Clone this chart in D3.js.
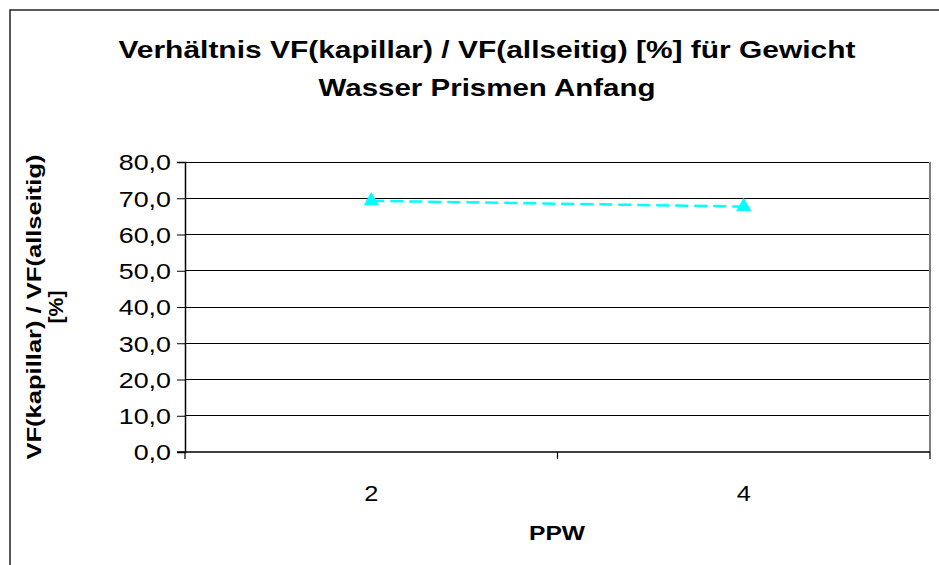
<!DOCTYPE html>
<html><head><meta charset="utf-8">
<script src="https://cdn.jsdelivr.net/npm/d3@7"></script>
<style>body{margin:0;background:#fff}svg{display:block;font-family:"Liberation Sans",Arial,sans-serif}</style>
</head><body>
<svg id="c" width="939" height="565"></svg>
<script>
const categories = ["2", "4"];
const values = [69.3, 67.7];
const yTicks = [0, 10, 20, 30, 40, 50, 60, 70, 80];
const titleLines = ["Verhältnis VF(kapillar) / VF(allseitig) [%] für Gewicht", "Wasser Prismen Anfang"];
const yTitleLines = ["VF(kapillar) / VF(allseitig)", "[%]"];
const xTitle = "PPW";

const svg = d3.select("#c");
const L = 185, R = 930, T = 162, B = 452;
const FF = "'Liberation Sans', Arial, sans-serif";

function stretch(sel, factor) {
  sel.each(function () {
    const w = this.getComputedTextLength();
    d3.select(this).attr("textLength", w * factor).attr("lengthAdjust", "spacingAndGlyphs");
  });
}
function fitTo(sel, widths) {
  sel.each(function (d, i) {
    d3.select(this).attr("textLength", widths[i]).attr("lengthAdjust", "spacingAndGlyphs");
  });
}

svg.append("rect").attr("x", 10).attr("y", 10).attr("width", 940).attr("height", 570)
  .attr("fill", "#fff").attr("stroke", "#000").attr("stroke-width", 1.3);

const x = d3.scaleBand().domain(categories).range([L, R]);
const y = d3.scaleLinear().domain([0, 80]).range([B, T]);

// gridlines
svg.append("g").selectAll("line").data(yTicks.filter(d => d > 0)).join("line")
  .attr("x1", L).attr("x2", R).attr("y1", d => y(d)).attr("y2", d => y(d))
  .attr("stroke", "#000").attr("stroke-width", 1).attr("shape-rendering", "crispEdges");
svg.append("line").attr("x1", R).attr("x2", R).attr("y1", T).attr("y2", B)
  .attr("stroke", "#808080").attr("stroke-width", 2);

// y axis
const yAxis = svg.append("g").attr("transform", `translate(${L},0)`)
  .call(d3.axisLeft(y).tickValues(yTicks).tickSize(8).tickPadding(6)
    .tickFormat(d => d3.format(".1f")(d).replace(".", ",")));
yAxis.select(".domain").attr("stroke", "#000").attr("stroke-width", 1.5);
yAxis.selectAll(".tick line").attr("stroke", "#000");
const yl = yAxis.selectAll("text").style("font-size", "22px").attr("fill", "#000")
  .style("font-family", FF).attr("dy", "0.36em");
stretch(yl, 1.22);

// x axis with category-boundary ticks
const xg = svg.append("g").attr("transform", `translate(0,${B})`);
xg.append("line").attr("x1", L - 8).attr("x2", R).attr("y1", 0).attr("y2", 0)
  .attr("stroke", "#000").attr("stroke-width", 1.5);
const bounds = categories.map(c => x(c)).concat([x(categories[categories.length - 1]) + x.bandwidth()]);
xg.selectAll("line.tk").data(bounds).join("line").attr("class", "tk")
  .attr("x1", d => d).attr("x2", d => d).attr("y1", 0).attr("y2", 7)
  .attr("stroke", "#000").attr("stroke-width", 1.2);
const xl = xg.selectAll("text").data(categories).join("text")
  .attr("x", d => x(d) + x.bandwidth() / 2).attr("y", 49)
  .attr("text-anchor", "middle").style("font-size", "22px").text(d => d);
stretch(xl, 1.15);

// series line
const line = d3.line().x((d, i) => x(categories[i]) + x.bandwidth() / 2).y(d => y(d));
svg.append("path").datum(values).attr("d", line).attr("fill", "none")
  .attr("stroke", "#00FFFF").attr("stroke-width", 2.5).attr("stroke-dasharray", "13,6");
svg.append("g").selectAll("path").data(values).join("path")
  .attr("d", d3.symbol().type(d3.symbolTriangle).size(100))
  .attr("transform", (d, i) => `translate(${x(categories[i]) + x.bandwidth() / 2},${y(d)})`)
  .attr("fill", "#00FFFF");

// title
const tt = svg.append("g").selectAll("text").data(titleLines).join("text")
  .attr("x", 487).attr("y", (d, i) => 58 + i * 38)
  .attr("text-anchor", "middle").style("font-size", "24px").attr("font-weight", "bold").text(d => d);
fitTo(tt, [737, 337]);

// y title
const yt = svg.append("g").attr("transform", `translate(0,${(T + B) / 2})`)
  .selectAll("text").data(yTitleLines).join("text")
  .attr("transform", (d, i) => `translate(${41 + i * 22},0) rotate(-90)`)
  .attr("text-anchor", "middle").style("font-size", "21px").attr("font-weight", "bold").text(d => d);
fitTo(yt, [305, 33]);

// x title
const xt = svg.append("text").attr("x", 557).attr("y", 540).attr("text-anchor", "middle")
  .style("font-size", "21px").attr("font-weight", "bold").text(xTitle);
fitTo(xt, [56]);
</script>
</body></html>
